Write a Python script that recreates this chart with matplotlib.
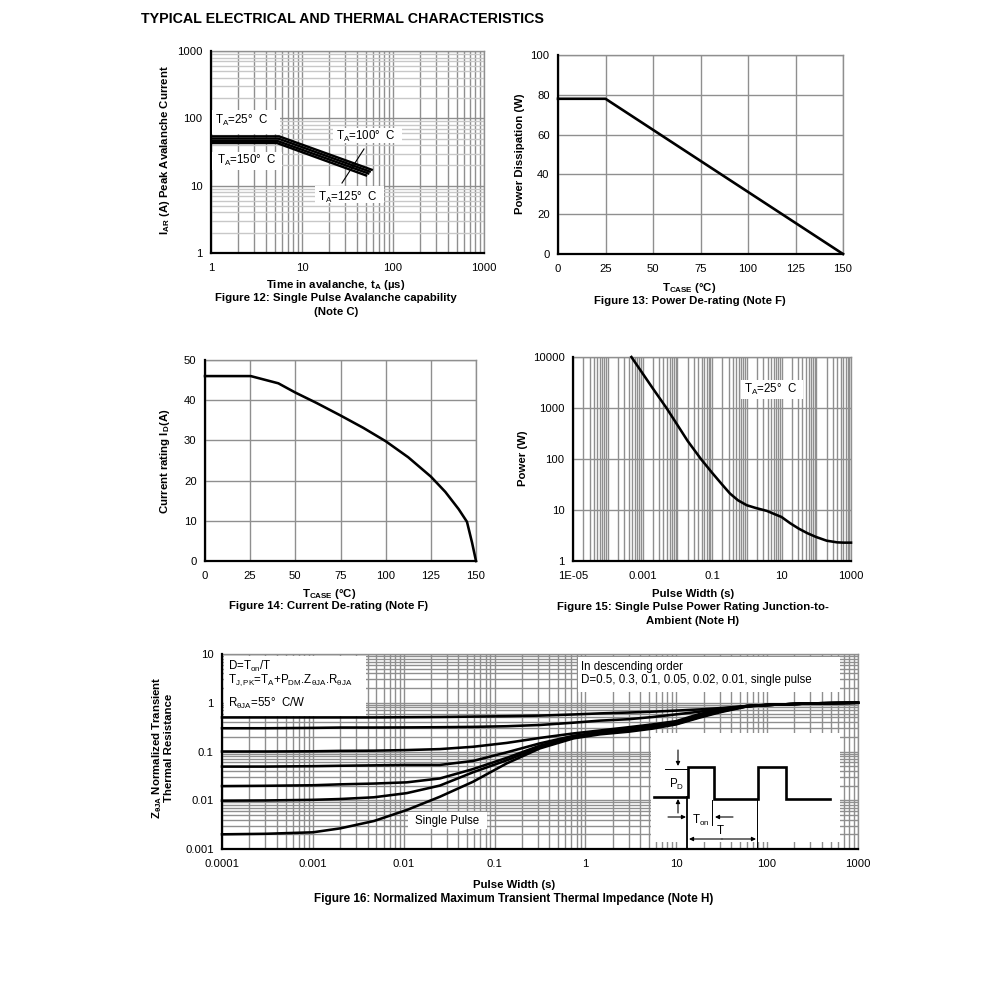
"""Typical electrical and thermal characteristics, figures 12 to 16."""

from __future__ import annotations

import matplotlib

matplotlib.use("Agg")
import matplotlib.pyplot as plt
from matplotlib.patches import Rectangle
from matplotlib.ticker import FixedLocator, LogLocator, NullFormatter

WIDTH = 991
HEIGHT = 998
GRID = "#8f8f8f"
GRID_LIGHT = "#c8c8c8"
CURVE_WIDTH = 1.85
TICK_SIZE = 8.1
LABEL_SIZE = 8.2
NOTE_SIZE = 8.3

plt.rcParams["font.family"] = ["Liberation Sans", "DejaVu Sans"]
plt.rcParams["mathtext.fontset"] = "custom"
plt.rcParams["mathtext.rm"] = "Liberation Sans"
plt.rcParams["mathtext.it"] = "Liberation Sans"
plt.rcParams["mathtext.bf"] = "Liberation Sans:bold"
plt.rcParams["font.size"] = TICK_SIZE

# Figure 12
AVALANCHE_TIME = [
    [1, 5.6, 60],
    [1, 5.5, 57],
    [1, 5.4, 55],
    [1, 5.3, 52],
]
AVALANCHE_CURRENT = [
    [54, 54, 17],
    [50, 50, 16],
    [46, 46, 15],
    [43, 43, 14],
]

# Figure 13
POWER_CASE_TEMP = [0, 25, 150]
POWER_DERATING = [78, 78, 0]

# Figure 14
CURRENT_CASE_TEMP = [0, 25.3, 40.6, 50, 61.8, 75, 87.7, 100, 112.5, 125, 133, 140.4, 145, 147.8, 150]
CURRENT_DERATING = [46, 46, 44.2, 41.9, 39.3, 36.2, 33.1, 29.8, 25.8, 21, 17.2, 12.9, 9.75, 4.6, 0]

# Figure 15
PULSE_WIDTH = [
    0.00048, 0.001, 0.002, 0.0049, 0.01, 0.02, 0.048, 0.1, 0.2, 0.33, 0.56, 1,
    1.78, 3.8, 6.3, 10, 17.8, 31.6, 56, 100, 200, 400, 616, 1000,
]
PULSE_POWER = [
    10000, 4800, 2400, 1000, 470, 225, 100, 54, 31, 21, 15.5, 12.4,
    11, 9.6, 8.3, 7.3, 5.5, 4.3, 3.5, 2.95, 2.5, 2.32, 2.29, 2.29,
]

# Figure 16
IMPEDANCE_TIME = [
    0.0001, 0.0003, 0.001, 0.002, 0.0047, 0.0108, 0.025, 0.058, 0.136, 0.316,
    0.74, 1.45, 3, 5.5, 10, 18, 30, 60, 100, 300, 1000,
]
IMPEDANCE_CURVES = {
    "0.5": [0.5, 0.5, 0.5, 0.5, 0.5, 0.505, 0.51, 0.52, 0.53, 0.545, 0.575, 0.605, 0.63, 0.656, 0.69, 0.73, 0.775, 0.857, 0.9, 0.97, 1.0],
    "0.3": [0.3, 0.3, 0.305, 0.31, 0.31, 0.312, 0.315, 0.32, 0.33, 0.35, 0.39, 0.43, 0.46, 0.51, 0.578, 0.656, 0.745, 0.857, 0.9, 0.97, 1.0],
    "0.1": [0.1, 0.1, 0.101, 0.103, 0.104, 0.107, 0.112, 0.125, 0.15, 0.19, 0.235, 0.27, 0.315, 0.36, 0.42, 0.587, 0.72, 0.857, 0.9, 0.97, 1.0],
    "0.05": [0.049, 0.049, 0.05, 0.051, 0.052, 0.053, 0.053, 0.064, 0.096, 0.147, 0.21, 0.25, 0.295, 0.34, 0.4, 0.56, 0.7, 0.855, 0.9, 0.97, 1.0],
    "0.02": [0.0195, 0.0198, 0.0203, 0.0212, 0.022, 0.0233, 0.028, 0.0436, 0.074, 0.132, 0.2, 0.24, 0.28, 0.325, 0.385, 0.53, 0.675, 0.85, 0.9, 0.97, 1.0],
    "0.01": [0.0098, 0.0099, 0.0102, 0.0106, 0.0115, 0.014, 0.02, 0.0375, 0.066, 0.122, 0.192, 0.235, 0.27, 0.31, 0.37, 0.51, 0.655, 0.845, 0.9, 0.97, 1.0],
    "single": [0.002, 0.00205, 0.0022, 0.00265, 0.00375, 0.0063, 0.0118, 0.024, 0.057, 0.116, 0.186, 0.225, 0.255, 0.295, 0.36, 0.494, 0.635, 0.84, 0.9, 0.97, 1.0],
}

fig = plt.figure(figsize=(WIDTH / 100, HEIGHT / 100), dpi=100, facecolor="white")
overlay = fig.add_axes([0, 0, 1, 1], zorder=10)
overlay.set_xlim(0, WIDTH)
overlay.set_ylim(HEIGHT, 0)
overlay.axis("off")
overlay.patch.set_alpha(0)


def make_axes(left: float, top: float, right: float, bottom: float, x_limits, y_limits, log: bool):
    axis = fig.add_axes(
        [left / WIDTH, 1 - bottom / HEIGHT, (right - left) / WIDTH, (bottom - top) / HEIGHT]
    )
    if log:
        axis.set_xscale("log")
        axis.set_yscale("log")
    axis.set_xlim(*x_limits)
    axis.set_ylim(*y_limits)
    axis.set_axisbelow(True)
    for name in ("top", "right"):
        axis.spines[name].set_color(GRID)
        axis.spines[name].set_linewidth(1.0)
    for name in ("left", "bottom"):
        axis.spines[name].set_linewidth(1.6)
        axis.spines[name].set_zorder(6)
    axis.tick_params(axis="x", which="both", length=0, pad=7)
    axis.tick_params(axis="y", which="both", length=0, pad=6)
    return axis


def log_grid(axis, x_ticks, x_text, y_ticks, y_text, x_minor_color, y_minor_color) -> None:
    axis.xaxis.set_major_locator(FixedLocator(x_ticks))
    axis.yaxis.set_major_locator(FixedLocator(y_ticks))
    axis.set_xticklabels(x_text)
    axis.set_yticklabels(y_text)
    axis.xaxis.set_minor_locator(LogLocator(base=10, subs=range(1, 10), numticks=60))
    axis.xaxis.set_minor_formatter(NullFormatter())
    axis.yaxis.set_minor_locator(LogLocator(base=10, subs=range(1, 10), numticks=60))
    axis.yaxis.set_minor_formatter(NullFormatter())
    axis.grid(True, which="major", color=GRID, linewidth=1.0)
    axis.grid(True, which="minor", axis="x", color=x_minor_color, linewidth=1.0)
    if y_minor_color:
        axis.grid(True, which="minor", axis="y", color=y_minor_color, linewidth=1.0)


def axis_labels(axis, xlabel: str, x_pos, ylabel: str, y_pos) -> None:
    axis.set_xlabel(xlabel, fontweight="bold", fontsize=LABEL_SIZE)
    axis.set_ylabel(ylabel, fontweight="bold", fontsize=LABEL_SIZE, linespacing=0.95)
    axis.xaxis.set_label_coords(*x_pos, transform=overlay.transData)
    axis.yaxis.set_label_coords(*y_pos, transform=overlay.transData)
    axis.xaxis.label.set_verticalalignment("center")
    axis.yaxis.label.set_verticalalignment("center")


def white_box(x0: float, y0: float, x1: float, y1: float) -> None:
    overlay.add_patch(Rectangle((x0, y0), x1 - x0, y1 - y0, fc="white", ec="none", zorder=1))


def note(x: float, y: float, text: str, ha: str = "left", **kwargs) -> None:
    kwargs.setdefault("fontsize", NOTE_SIZE)
    overlay.text(x, y, text, ha=ha, va="center", zorder=8, **kwargs)


def caption(x: float, y: float, text: str, size: float = LABEL_SIZE) -> None:
    note(x, y, text, ha="center", fontweight="bold", fontsize=size)


def arrow(x0: float, y0: float, x1: float, y1: float) -> None:
    overlay.annotate(
        "", xy=(x1, y1), xytext=(x0, y0), zorder=8,
        arrowprops=dict(arrowstyle="-|>", color="black", lw=0.8, mutation_scale=6, shrinkA=0, shrinkB=0),
    )


fig.text(141 / WIDTH, 1 - 19 / HEIGHT, "TYPICAL ELECTRICAL AND THERMAL CHARACTERISTICS",
         fontweight="bold", fontsize=10.3, va="center")

# Figure 12
ax12 = make_axes(211, 51, 484, 253, (1, 1000), (1, 1000), True)
log_grid(ax12, [1, 10, 100, 1000], ["1", "10", "100", "1000"],
         [1, 10, 100, 1000], ["1", "10", "100", "1000"], GRID, GRID_LIGHT)
for times, currents in zip(AVALANCHE_TIME, AVALANCHE_CURRENT):
    ax12.plot(times, currents, color="black", lw=1.75, solid_capstyle="butt", zorder=5, clip_on=False)
axis_labels(ax12, r"Time in avalanche, t$_{\mathbf{A}}$ (µs)", (336, 285),
            r"I$_{\mathbf{AR}}$ (A) Peak Avalanche Current", (165, 150))
caption(336, 298, "Figure 12: Single Pulse Avalanche capability")
caption(336, 312, "(Note C)")
white_box(212, 110, 280, 134)
white_box(212, 152, 282, 170)
white_box(333, 128, 402, 143)
white_box(315, 186, 384, 203)
note(215, 120, r"T$_{\mathrm{A}}$=25°  C")
note(217, 160, r"T$_{\mathrm{A}}$=150°  C")
note(336, 136, r"T$_{\mathrm{A}}$=100°  C")
note(318, 197, r"T$_{\mathrm{A}}$=125°  C")
overlay.plot([364, 342], [149, 183], color="black", lw=0.8, zorder=8)

# Figure 13
ax13 = make_axes(558, 55, 843, 254, (0, 150), (0, 100), False)
ax13.set_xticks(range(0, 151, 25))
ax13.set_yticks(range(0, 101, 20))
ax13.grid(True, color=GRID, linewidth=1.0)
ax13.plot(POWER_CASE_TEMP, POWER_DERATING, color="black", lw=1.9, zorder=5, clip_on=False)
axis_labels(ax13, r"T$_{\mathbf{CASE}}$ (°C)", (689, 288), "Power Dissipation (W)", (520, 154))
caption(690, 301, "Figure 13: Power De-rating (Note F)")

# Figure 14
ax14 = make_axes(205, 360, 476, 561, (0, 150), (0, 50), False)
ax14.set_xticks(range(0, 151, 25))
ax14.set_yticks(range(0, 51, 10))
ax14.grid(True, color=GRID, linewidth=1.0)
ax14.plot(CURRENT_CASE_TEMP, CURRENT_DERATING, color="black", lw=CURVE_WIDTH, zorder=5, clip_on=False)
axis_labels(ax14, r"T$_{\mathbf{CASE}}$ (°C)", (329, 594), r"Current rating I$_{\mathbf{D}}$(A)", (165, 461))
caption(329, 606, "Figure 14: Current De-rating (Note F)")

# Figure 15
ax15 = make_axes(573, 357, 851, 561, (1e-5, 1000), (1, 10000), True)
log_grid(ax15, [1e-5, 1e-3, 0.1, 10, 1000], ["1E-05", "0.001", "0.1", "10", "1000"],
         [1, 10, 100, 1000, 10000], ["1", "10", "100", "1000", "10000"], GRID, None)
ax15.plot(PULSE_WIDTH, PULSE_POWER, color="black", lw=CURVE_WIDTH, zorder=5, clip_on=False)
axis_labels(ax15, "Pulse Width (s)", (693, 594), "Power (W)", (523, 458))
caption(693, 607, "Figure 15: Single Pulse Power Rating Junction-to-")
caption(693, 621, "Ambient (Note H)")
white_box(741, 380, 803, 399)
note(744, 389, r"T$_{\mathrm{A}}$=25°  C")

# Figure 16
ax16 = make_axes(222, 654, 858, 849, (1e-4, 1000), (1e-3, 10), True)
log_grid(ax16, [1e-4, 1e-3, 0.01, 0.1, 1, 10, 100, 1000],
         ["0.0001", "0.001", "0.01", "0.1", "1", "10", "100", "1000"],
         [1e-3, 0.01, 0.1, 1, 10], ["0.001", "0.01", "0.1", "1", "10"], GRID, GRID)
axis_labels(ax16, "Pulse Width (s)", (514, 885),
            "Z$_{\\mathbf{\\theta JA}}$ Normalized Transient\nThermal Resistance", (162, 748))
caption(514, 899, "Figure 16: Normalized Maximum Transient Thermal Impedance (Note H)", size=8.45)
white_box(224, 656, 366, 716)
white_box(578, 657, 840, 692)
white_box(651, 733, 840, 842)
white_box(408, 812, 487, 829)
for values in IMPEDANCE_CURVES.values():
    ax16.plot(IMPEDANCE_TIME, values, color="black", lw=CURVE_WIDTH, clip_on=False, zorder=20)
note(228, 666, r"D=T$_{\mathrm{on}}$/T")
note(228, 680, r"T$_{\mathrm{J,PK}}$=T$_{\mathrm{A}}$+P$_{\mathrm{DM}}$.Z$_{\theta\mathrm{JA}}$.R$_{\theta\mathrm{JA}}$")
note(228, 703, r"R$_{\theta\mathrm{JA}}$=55°  C/W")
note(581, 667, "In descending order")
note(581, 680, "D=0.5, 0.3, 0.1, 0.05, 0.02, 0.01, single pulse")
note(415, 821, "Single Pulse")

# Pulse train sketch inside figure 16
overlay.plot([654, 688, 688, 714, 714, 758, 758, 786, 786, 830],
             [797, 797, 767, 767, 799, 799, 767, 767, 799, 799],
             color="black", lw=1.9, zorder=8, solid_joinstyle="miter")
overlay.plot([665, 688], [769, 769], color="black", lw=0.7, zorder=8)
overlay.plot([687, 687], [797, 849], color="black", lw=1.3, zorder=8)
overlay.plot([712, 712], [800, 825], color="black", lw=0.7, zorder=8)
overlay.plot([757, 757], [799, 849], color="black", lw=0.7, zorder=8)
arrow(678, 750, 678, 766)
arrow(678, 813, 678, 799)
arrow(668, 817, 686, 817)
arrow(733, 817, 715, 817)
arrow(722, 839, 689, 839)
arrow(722, 839, 756, 839)
note(677, 784, r"P$_{\mathrm{D}}$", ha="center")
note(701, 820, r"T$_{\mathrm{on}}$", ha="center")
note(720, 831, "T", ha="center")

fig.savefig("out.png", dpi=100, facecolor="white")
